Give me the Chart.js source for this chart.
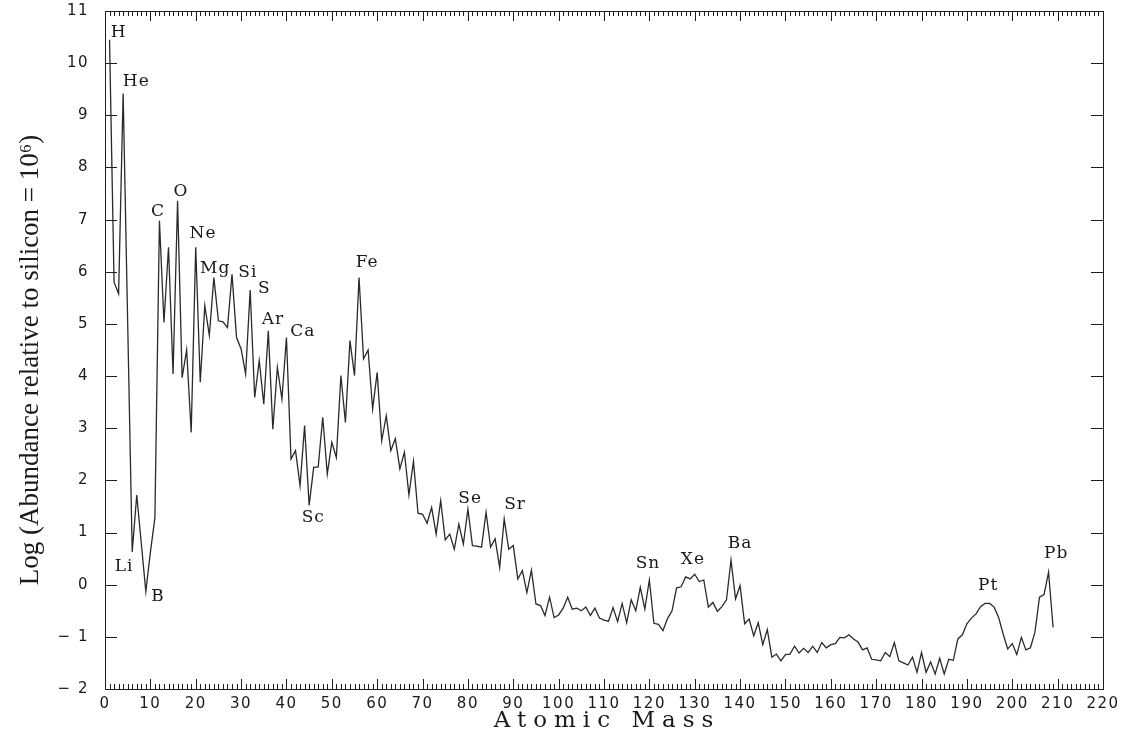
<!DOCTYPE html>
<html>
<head>
<meta charset="utf-8">
<title>Solar system abundances by atomic mass</title>
<script src="https://cdn.jsdelivr.net/npm/chart.js@4.4.1/dist/chart.umd.min.js"></script>
<style>
  html, body { margin: 0; padding: 0; background: #fff; }
  canvas { display: block; }
</style>
</head>
<body>
<canvas id="abundChart" width="1126" height="737"></canvas>
<script>
// atomic mass number and log abundance (silicon = 10^6)
const mass = [
  1, 2, 3, 4, 6, 7, 9, 10, 11, 12, 13, 14, 15, 16, 17, 18, 19, 20,
  21, 22, 23, 24, 25, 26, 27, 28, 29, 30, 31, 32, 33, 34, 35, 36, 37, 38, 39, 40,
  41, 42, 43, 44, 45, 46, 47, 48, 49, 50, 51, 52, 53, 54, 55, 56, 57, 58, 59, 60,
  61, 62, 63, 64, 65, 66, 67, 68, 69, 70, 71, 72, 73, 74, 75, 76, 77, 78, 79, 80,
  81, 82, 83, 84, 85, 86, 87, 88, 89, 90, 91, 92, 93, 94, 95, 96, 97, 98, 99, 100,
  101, 102, 103, 104, 105, 106, 107, 108, 109, 110, 111, 112, 113, 114, 115, 116, 117, 118, 119, 120,
  121, 122, 123, 124, 125, 126, 127, 128, 129, 130, 131, 132, 133, 134, 135, 136, 137, 138, 139, 140,
  141, 142, 143, 144, 145, 146, 147, 148, 149, 150, 151, 152, 153, 154, 155, 156, 157, 158, 159, 160,
  161, 162, 163, 164, 165, 166, 167, 168, 169, 170, 171, 172, 173, 174, 175, 176, 177, 178, 179, 180,
  181, 182, 183, 184, 185, 186, 187, 188, 189, 190, 191, 192, 193, 194, 195, 196, 197, 198, 199, 200,
  201, 202, 203, 204, 205, 206, 207, 208, 209
];
const logAbundance = [
  10.45, 5.80, 5.58, 9.42, 0.63, 1.72, -0.13, 0.62, 1.28, 6.98, 5.03, 6.47, 4.04, 7.36, 3.97, 4.50, 2.92, 6.47,
  3.88, 5.35, 4.78, 5.89, 5.06, 5.04, 4.93, 5.95, 4.74, 4.52, 4.04, 5.65, 3.59, 4.30, 3.46, 4.87, 2.98, 4.17, 3.56, 4.74,
  2.41, 2.57, 1.90, 3.05, 1.52, 2.25, 2.26, 3.21, 2.12, 2.73, 2.44, 4.01, 3.11, 4.68, 4.01, 5.89, 4.33, 4.50, 3.37, 4.07,
  2.76, 3.24, 2.57, 2.80, 2.22, 2.54, 1.72, 2.37, 1.37, 1.35, 1.18, 1.48, 0.97, 1.61, 0.86, 0.97, 0.68, 1.16, 0.78, 1.45,
  0.75, 0.74, 0.72, 1.39, 0.72, 0.88, 0.33, 1.26, 0.68, 0.75, 0.11, 0.27, -0.15, 0.28, -0.37, -0.40, -0.59, -0.24, -0.63, -0.58,
  -0.45, -0.24, -0.47, -0.45, -0.50, -0.43, -0.59, -0.45, -0.64, -0.68, -0.70, -0.44, -0.71, -0.36, -0.73, -0.29, -0.50, -0.05, -0.47, 0.09,
  -0.74, -0.76, -0.88, -0.65, -0.50, -0.06, -0.04, 0.15, 0.11, 0.20, 0.06, 0.09, -0.43, -0.34, -0.51, -0.42, -0.29, 0.47, -0.27, -0.02,
  -0.75, -0.66, -0.98, -0.73, -1.15, -0.86, -1.39, -1.33, -1.46, -1.34, -1.33, -1.18, -1.31, -1.22, -1.30, -1.18, -1.30, -1.11, -1.21, -1.15,
  -1.13, -1.01, -1.02, -0.96, -1.04, -1.10, -1.25, -1.21, -1.43, -1.44, -1.46, -1.30, -1.38, -1.11, -1.46, -1.50, -1.54, -1.39, -1.68, -1.30,
  -1.68, -1.48, -1.71, -1.41, -1.71, -1.43, -1.45, -1.04, -0.96, -0.75, -0.64, -0.56, -0.42, -0.36, -0.36, -0.43, -0.63, -0.95, -1.23, -1.13,
  -1.34, -1.01, -1.25, -1.21, -0.91, -0.24, -0.19, 0.24, -0.82
];

// element names and where their labels sit (mass, log abundance)
const elementNames = ['H', 'He', 'Li', 'B', 'C', 'O', 'Ne', 'Mg', 'Si', 'S', 'Ar', 'Ca', 'Sc', 'Fe',
  'Se', 'Sr', 'Sn', 'Xe', 'Ba', 'Pt', 'Pb'];
const elementX = [3.0, 6.9, 4.2, 11.7, 11.7, 16.75, 21.6, 24.3, 31.5, 35.1, 37.0, 43.6, 45.9, 57.8,
  80.5, 90.4, 119.7, 129.6, 140.0, 194.7, 209.7];
const elementY = [10.58, 9.65, 0.35, -0.23, 7.15, 7.54, 6.73, 6.06, 5.98, 5.68, 5.08, 4.85, 1.28, 6.17,
  1.65, 1.53, 0.40, 0.48, 0.79, -0.02, 0.59];

const massTicks = [0, 10, 20, 30, 40, 50, 60, 70, 80, 90, 100, 110, 120, 130, 140, 150, 160, 170, 180, 190, 200, 210, 220];
const logTicks = [-2, -1, 0, 1, 2, 3, 4, 5, 6, 7, 8, 9, 10, 11];

// frame with inward ticks, axis titles and element names
const plotDecor = {
  id: 'plotDecor',
  beforeDraw(chart) {
    chart.ctx.letterSpacing = '1.5px';
  },
  afterDatasetsDraw(chart) {
    const { ctx, chartArea: a, scales: { x, y } } = chart;
    ctx.save();
    ctx.strokeStyle = '#1e1e1e';
    ctx.lineWidth = 1;
    ctx.strokeRect(Math.round(a.left) + 0.5, Math.round(a.top) + 0.5,
      Math.round(a.width), Math.round(a.height));
    ctx.beginPath();
    for (let m = 0; m <= 220; m++) {
      const px = Math.round(x.getPixelForValue(m)) + 0.5;
      const len = m % 10 === 0 ? 10 : 5;
      ctx.moveTo(px, a.bottom); ctx.lineTo(px, a.bottom - len);
      ctx.moveTo(px, a.top); ctx.lineTo(px, a.top + len);
    }
    logTicks.forEach(v => {
      const py = Math.round(y.getPixelForValue(v)) + 0.5;
      ctx.moveTo(a.left, py); ctx.lineTo(a.left + 12, py);
      ctx.moveTo(a.right, py); ctx.lineTo(a.right - 12, py);
    });
    ctx.stroke();

    ctx.fillStyle = '#1a1a1a';
    ctx.textAlign = 'center';
    ctx.textBaseline = 'middle';
    ctx.letterSpacing = '1px';
    ctx.font = '17px "DejaVu Serif"';
    elementNames.forEach((name, i) => {
      ctx.fillText(name, x.getPixelForValue(elementX[i]), y.getPixelForValue(elementY[i]));
    });

    ctx.letterSpacing = '7px';
    ctx.font = '23px "DejaVu Serif"';
    ctx.fillText('Atomic Mass', (a.left + a.right) / 2 + 3, 721);

    ctx.letterSpacing = '0px';
    ctx.translate(31, (a.top + a.bottom) / 2 + 10);
    ctx.rotate(-Math.PI / 2);
    ctx.font = '27px "Liberation Serif"';
    ctx.fillText('Log (Abundance relative to silicon = 10\u2076)', 0, 0);
    ctx.restore();
  }
};

const ctx = document.getElementById('abundChart').getContext('2d');

const abundChart = new Chart(ctx, {
  type: 'line',
  data: {
    datasets: [{
      data: mass.map((m, i) => ({ x: m, y: logAbundance[i] })),
      borderColor: '#2a2a2a',
      borderWidth: 1.3,
      pointRadius: 0,
      tension: 0,
      fill: false
    }]
  },
  options: {
    responsive: false,
    animation: false,
    devicePixelRatio: 1,
    layout: { padding: { top: 11, right: 23, left: 0, bottom: 0 } },
    plugins: { legend: { display: false }, tooltip: { enabled: false } },
    scales: {
      x: {
        type: 'linear',
        min: 0,
        max: 220,
        afterBuildTicks: scale => { scale.ticks = massTicks.map(v => ({ value: v })); },
        afterFit: scale => {
          scale.height = 48;
          scale.paddingLeft = 0;
          scale.paddingRight = 0;
        },
        grid: { display: false, drawTicks: false },
        border: { display: false },
        ticks: {
          padding: 6,
          maxRotation: 0,
          autoSkip: false,
          color: '#1a1a1a',
          font: { family: 'DejaVu Sans', size: 15 }
        }
      },
      y: {
        type: 'linear',
        min: -2,
        max: 11,
        afterBuildTicks: scale => { scale.ticks = logTicks.map(v => ({ value: v })); },
        afterFit: scale => {
          scale.width = 105;
          scale.paddingTop = 0;
          scale.paddingBottom = 0;
        },
        grid: { display: false, drawTicks: false },
        border: { display: false },
        ticks: {
          padding: 16,
          autoSkip: false,
          color: '#1a1a1a',
          font: { family: 'DejaVu Sans', size: 15 },
          callback: v => (v < 0 ? '\u2212 ' + Math.abs(v) : String(v))
        }
      }
    }
  },
  plugins: [plotDecor]
});
</script>
</body>
</html>
